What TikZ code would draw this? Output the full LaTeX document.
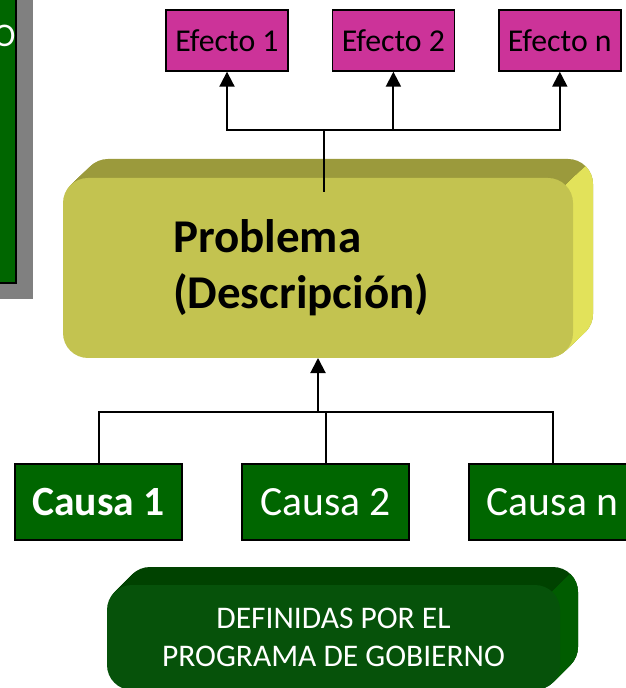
\documentclass[tikz,border=0pt]{standalone}
\usepackage{fontspec}
\setmainfont{Carlito}
\usepackage{tikz}
\usetikzlibrary{arrows.meta,positioning}
\definecolor{efectomag}{HTML}{CC3399}
\definecolor{causaverde}{HTML}{006600}
\definecolor{probfrente}{HTML}{C3C350}
\definecolor{probtapa}{HTML}{9B9A3C}
\definecolor{problado}{HTML}{E2E25A}
\definecolor{defverde}{HTML}{06520A}
\definecolor{deftapa}{HTML}{004200}
\definecolor{deflado}{HTML}{005C00}
\tikzset{every node/.style={inner sep=0pt}}

\begin{document}
\begin{tikzpicture}[x=0.5pt,y=-0.5pt,>={Triangle[width=7.5pt,length=7.5pt]},
                    line width=1pt]
  \tikzstyle{efecto}=[rectangle,draw=black,line width=0.7pt,fill=efectomag,
                      minimum width=61pt,minimum height=30.5pt,font=\fontsize{15.9}{19}\selectfont]
  \tikzstyle{causa}=[rectangle,draw=black,line width=0.7pt,fill=causaverde,text=white,
                     minimum width=83.5pt,minimum height=38pt,font=\fontsize{20.8}{25}\selectfont]
  \tikzstyle{problema}=[rectangle,rounded corners=12.5pt,fill=probfrente,outer sep=0pt,
                        minimum width=255pt,minimum height=90pt,text width=145pt,align=left,
                        font=\bfseries\fontsize{23.5}{28}\selectfont]
  \tikzstyle{definidas}=[rectangle,rounded corners=12.5pt,fill=defverde,text=white,
                         minimum width=226.5pt,minimum height=52.5pt,align=center,
                         font=\fontsize{15.75}{19}\selectfont]

  \fill[white] (0,0) rectangle (625,688);
  \useasboundingbox (0,0) rectangle (625,688);

  % recuadro cortado a la izquierda
  \fill[gray] (-100,-100) rectangle (33,299);
  \draw[fill=causaverde,line width=0.7pt] (-117,-116) rectangle (16,283);
  \node[text=white,anchor=base east,font=\fontsize{16.5}{19}\selectfont] (o) at (16.5,47) {O};

  % volumen del problema
  \foreach \k in {1,...,20}
    \fill[probtapa,rounded corners=12.5pt] (63+\k,178-0.95*\k) rectangle (573+\k,358-0.95*\k);
  \begin{scope}
    \clip (526,223) -- (606,147) -- (700,147) -- (700,450) -- (526,450) -- cycle;
    \foreach \k in {1,...,20}
      \fill[problado,rounded corners=12.5pt] (63+\k,178-0.95*\k) rectangle (573+\k,358-0.95*\k);
  \end{scope}

  % volumen de abajo
  \foreach \k in {1,...,18}
    \fill[deftapa,rounded corners=12.5pt] (107+\k,585-\k) rectangle (560+\k,690-\k);
  \begin{scope}
    \clip (512,632) -- (592,552) -- (700,552) -- (700,720) -- (512,720) -- cycle;
    \foreach \k in {1,...,18}
      \fill[deflado,rounded corners=12.5pt] (107+\k,585-\k) rectangle (560+\k,690-\k);
  \end{scope}

  \node[problema] (prob) at (318,268) {Problema\\(Descripción)};
  \node[definidas] (def) at (333.5,637.5) {DEFINIDAS POR EL\\PROGRAMA DE GOBIERNO};

  \node[efecto] (e1) at (227,40.5) {Efecto 1};
  \node[efecto] (e2) [right=21.5pt of e1] {Efecto 2};
  \node[efecto] (en) [right=21.5pt of e2] {Efecto n};

  \node[causa,font=\bfseries\fontsize{20.8}{25}\selectfont] (c1) at (98.5,502) {Causa 1};
  \node[causa] (c2) [right=29.3pt of c1] {Causa 2};
  \node[causa] (cn) [right=29.3pt of c2] {Causa n};

  \coordinate (st) at (324,192);
  \coordinate (jt) at (324,130);
  \coordinate (jb) at (318,412);

  \draw (st) -- (jt);
  \draw[->] (jt) -| (e1.south);
  \draw[->] (jt) -| (e2.south);
  \draw[->] (jt) -| (en.south);

  \draw (c1.north) |- (jb) -| (cn.north);
  \draw (c2.north) -- (c2.north |- jb);
  \draw[->] (jb) -- (prob.south);

\end{tikzpicture}
\end{document}
